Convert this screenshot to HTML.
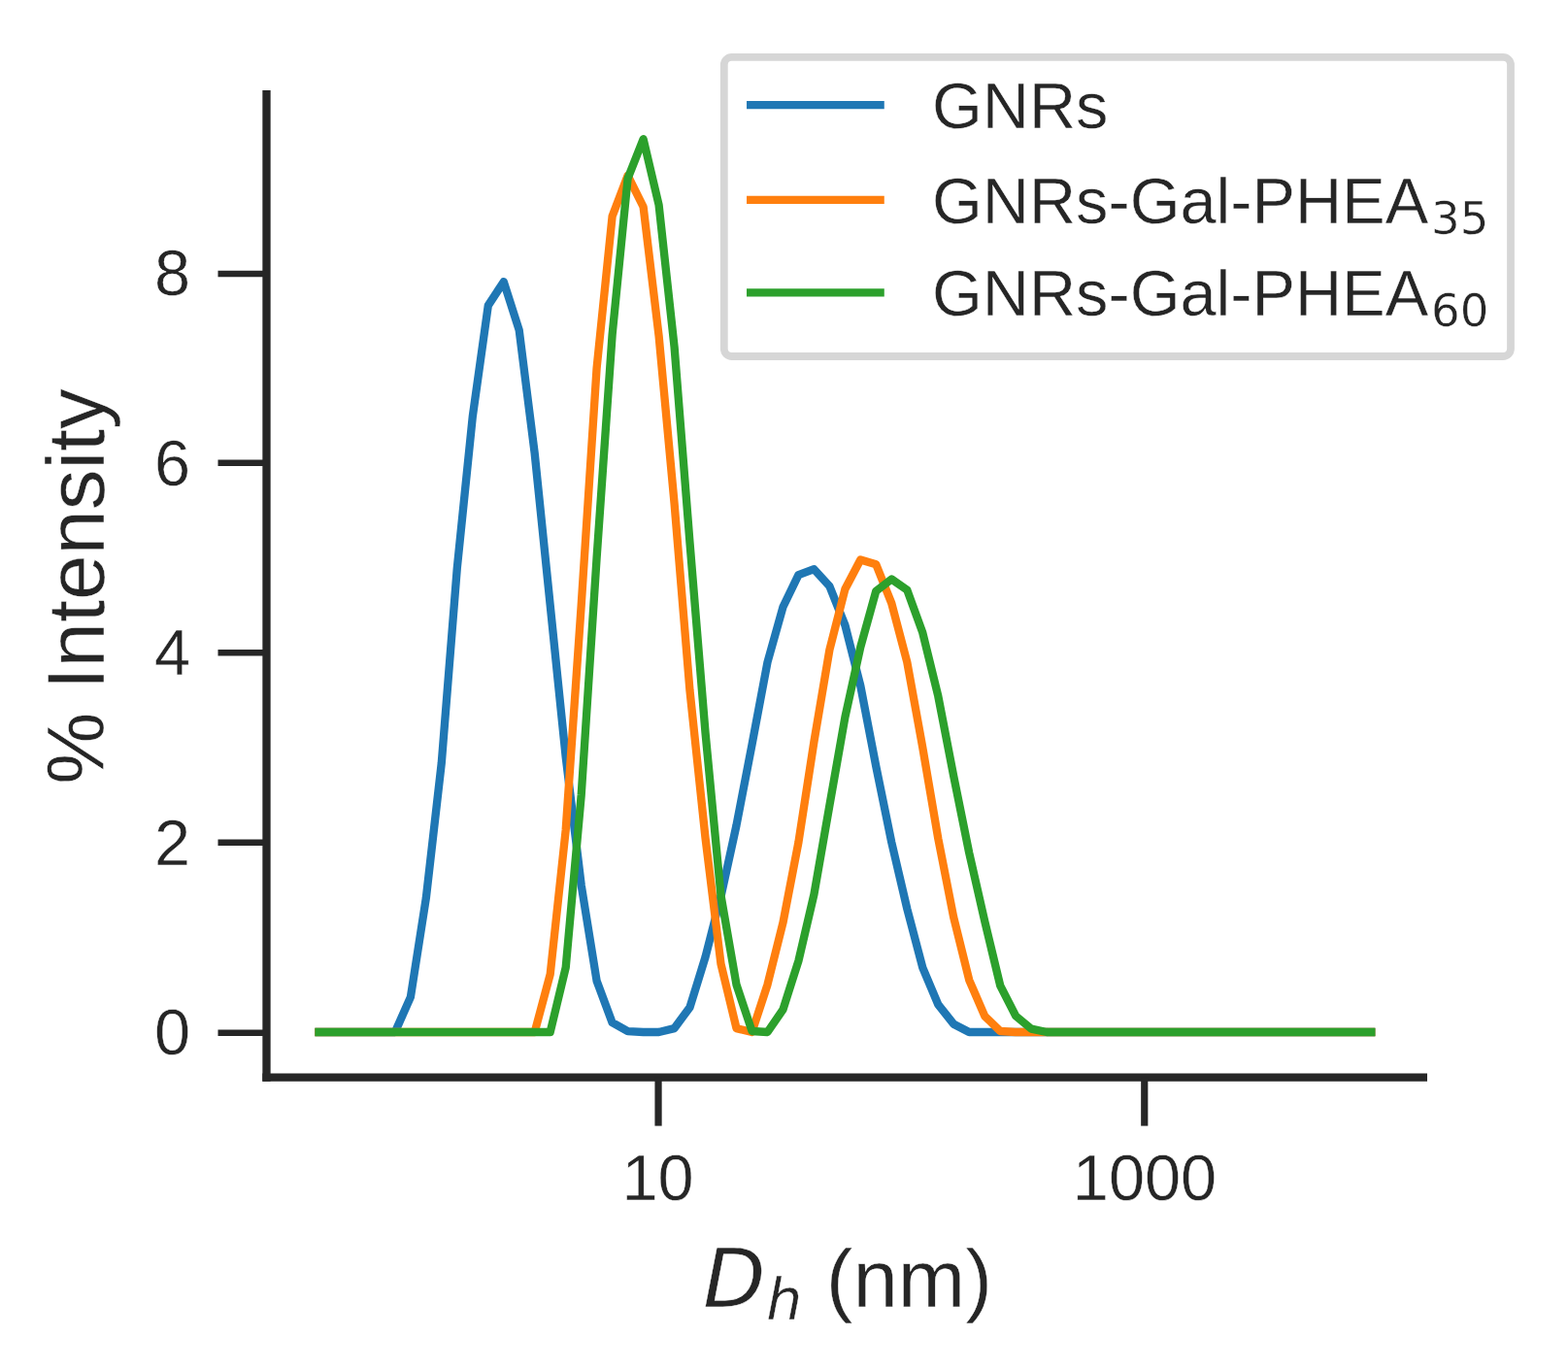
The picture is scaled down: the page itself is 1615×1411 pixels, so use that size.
<!DOCTYPE html>
<html lang="en">
<head>
<meta charset="utf-8">
<title>DLS intensity distribution</title>
<style>
html,body{margin:0;padding:0;background:#fff;}
body{width:1615px;height:1411px;overflow:hidden;}
svg{display:block;filter:blur(0.6px);}
</style>
</head>
<body>
<svg width="1615" height="1411" viewBox="0 0 1615 1411">
<rect width="1615" height="1411" fill="#fff"/>
<path d="M324.4 1063.0 L406.9 1063.0 L422.9 1026.9 L438.8 925.2 L454.8 785.5 L470.8 585.2 L486.8 428.9 L502.8 314.6 L518.8 290.2 L534.7 340.0 L550.7 467.0 L566.7 623.3 L582.7 779.7 L598.7 911.6 L614.6 1010.2 L630.6 1053.2 L646.6 1062.2 L662.6 1063.0 L678.6 1063.0 L694.6 1059.1 L710.5 1037.6 L726.5 985.8 L742.5 923.3 L758.5 850.0 L774.5 767.0 L790.5 682.0 L806.4 625.3 L822.4 592.1 L838.4 586.2 L854.4 603.8 L870.4 643.9 L886.3 706.4 L902.3 789.4 L918.3 867.6 L934.3 936.0 L950.3 996.6 L966.3 1034.7 L982.2 1054.7 L998.2 1063.0 L1416.4 1063.0" fill="none" stroke="#1f77b4" stroke-width="8.33" stroke-linejoin="round" stroke-linecap="butt"/>
<path d="M324.4 1063.0 L550.7 1063.0 L566.7 1003.4 L582.7 854.9 L598.7 623.3 L614.6 379.1 L630.6 222.8 L646.6 180.8 L662.6 213.0 L678.6 345.9 L694.6 518.8 L710.5 711.3 L726.5 862.7 L742.5 992.7 L758.5 1059.1 L774.5 1063.0 L790.5 1014.1 L806.4 950.6 L822.4 867.6 L838.4 764.0 L854.4 669.3 L870.4 606.7 L886.3 576.5 L902.3 581.3 L918.3 621.4 L934.3 682.0 L950.3 769.9 L966.3 863.7 L982.2 944.8 L998.2 1009.3 L1014.2 1046.4 L1030.2 1062.0 L1046.2 1063.0 L1416.4 1063.0" fill="none" stroke="#ff7f0e" stroke-width="8.33" stroke-linejoin="round" stroke-linecap="butt"/>
<path d="M324.4 1063.0 L566.7 1063.0 L582.7 996.6 L598.7 818.8 L614.6 574.5 L630.6 344.9 L646.6 183.7 L662.6 143.2 L678.6 211.1 L694.6 357.6 L710.5 558.9 L726.5 754.3 L742.5 922.3 L758.5 1014.1 L774.5 1062.0 L790.5 1063.0 L806.4 1039.9 L822.4 989.7 L838.4 921.3 L854.4 829.5 L870.4 738.6 L886.3 666.3 L902.3 608.7 L918.3 596.5 L934.3 607.7 L950.3 651.7 L966.3 717.1 L982.2 799.2 L998.2 878.3 L1014.2 948.7 L1030.2 1015.1 L1046.2 1046.4 L1062.2 1059.6 L1078.1 1063.0 L1416.4 1063.0" fill="none" stroke="#2ca02c" stroke-width="8.33" stroke-linejoin="round" stroke-linecap="butt"/>
<g stroke="#262626" fill="none" stroke-linecap="butt">
<path d="M274.5 93 V1113.75" stroke-width="8.3"/>
<path d="M270.35 1109.6 H1470" stroke-width="8.3"/>
<path d="M274.5 1063.7 H224.5" stroke-width="6.5"/>
<path d="M274.5 867.7 H224.5" stroke-width="6.5"/>
<path d="M274.5 672.2 H224.5" stroke-width="6.5"/>
<path d="M274.5 476.8 H224.5" stroke-width="6.5"/>
<path d="M274.5 282.0 H224.5" stroke-width="6.5"/>
<path d="M678.05 1109.6 V1159.6" stroke-width="7.2"/>
<path d="M1178.75 1109.6 V1159.6" stroke-width="7.2"/>
</g>
<g font-family="'Liberation Sans', sans-serif" font-size="66.67" fill="#262626" stroke="#fff" stroke-width="0.4">
<text x="196" y="1086.0" text-anchor="end">0</text>
<text x="196" y="890.6" text-anchor="end">2</text>
<text x="196" y="695.2" text-anchor="end">4</text>
<text x="196" y="499.8" text-anchor="end">6</text>
<text x="196" y="304.4" text-anchor="end">8</text>
<text x="677.5" y="1235.5" text-anchor="middle">10</text>
<text x="1179.0" y="1235.5" text-anchor="middle">1000</text>
</g>
<text transform="translate(106.5 604) rotate(-90)" text-anchor="middle" font-family="'Liberation Sans', sans-serif" font-size="83.33" fill="#262626" stroke="#fff" stroke-width="0.4">% Intensity</text>
<text x="724.3" y="1345.5" font-family="'Liberation Sans', sans-serif" font-size="83.33" fill="#262626" stroke="#fff" stroke-width="0.4"><tspan font-family="'DejaVu Sans', sans-serif" font-style="oblique">D</tspan><tspan font-family="'DejaVu Sans', sans-serif" font-style="oblique" font-size="58.33" dx="0.7" dy="13">h</tspan><tspan dy="-13" dx="1.35"> (nm)</tspan></text>
<rect x="745.8" y="58.8" width="810.2" height="308.2" rx="8" ry="8" fill="#fff" fill-opacity="0.8" stroke="#cccccc" stroke-opacity="0.8" stroke-width="7.8"/>
<path d="M773.2 108.1 H906.6" stroke="#1f77b4" stroke-width="8.33" stroke-linecap="square" fill="none"/>
<text x="960" y="132" font-family="'Liberation Sans', sans-serif" font-size="66.67" fill="#262626" stroke="#fff" stroke-width="0.4">GNRs</text>
<path d="M773.2 205.9 H906.6" stroke="#ff7f0e" stroke-width="8.33" stroke-linecap="square" fill="none"/>
<text x="960" y="229.7" font-family="'Liberation Sans', sans-serif" font-size="66.67" fill="#262626" stroke="#fff" stroke-width="0.4">GNRs-Gal-PHEA<tspan font-family="'DejaVu Sans', sans-serif" font-size="46.67" dx="3" dy="10.8">35</tspan></text>
<path d="M773.2 301.4 H906.6" stroke="#2ca02c" stroke-width="8.33" stroke-linecap="square" fill="none"/>
<text x="960" y="325.2" font-family="'Liberation Sans', sans-serif" font-size="66.67" fill="#262626" stroke="#fff" stroke-width="0.4">GNRs-Gal-PHEA<tspan font-family="'DejaVu Sans', sans-serif" font-size="46.67" dx="3" dy="10.8">60</tspan></text>
</svg>
</body>
</html>
